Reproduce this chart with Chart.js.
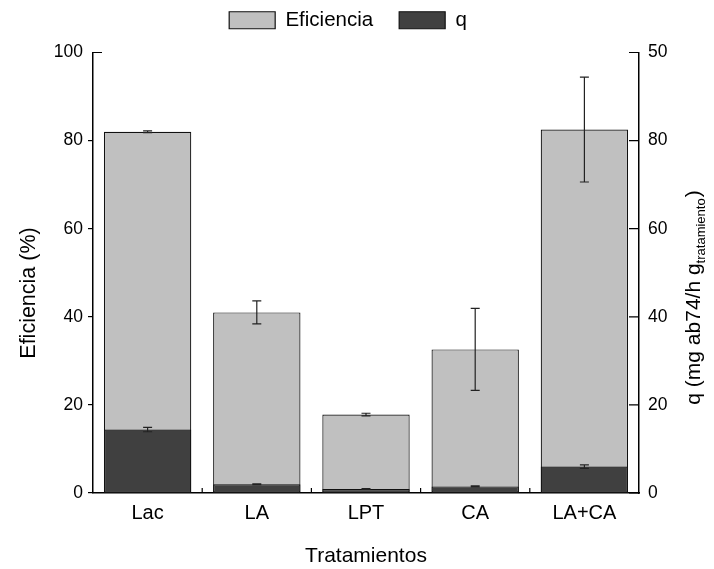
<!DOCTYPE html>
<html>
<head>
<meta charset="utf-8">
<script src="https://cdn.jsdelivr.net/npm/chart.js@4"></script>
<style>
  html, body { margin: 0; padding: 0; background: #fff; }
  #wrap { width: 714px; height: 569px; }
</style>
</head>
<body>
<div id="wrap"><canvas id="my-canvas" width="714" height="569"></canvas></div>
<script>
// data
let categories = ['Lac', 'LA', 'LPT', 'CA', 'LA+CA'];
let eficiencia = [82.0, 41.0, 17.8, 32.6, 82.5];
let eficiencia_err = [0.2, 2.6, 0.3, 9.3, 11.9];
let q_vals = [7.2, 1.0, 0.45, 0.75, 3.0];
let q_err = [0.25, 0.05, 0.05, 0.05, 0.2];
// right axis labels as printed on the original (top one reads 50)
let right_tick_labels = ['0', '20', '40', '60', '80', '50'];

Chart.defaults.font.family = "'Liberation Sans', Arial, sans-serif";
Chart.defaults.color = '#000';

// error bars drawn over the bars
const errorBars = {
    id: 'errorBars',
    afterDatasetsDraw(chart) {
        let ctx = chart.ctx;
        chart.data.datasets.forEach((ds, di) => {
            if (!ds.errors) return;
            let meta = chart.getDatasetMeta(di);
            let sc = chart.scales[meta.yAxisID];
            meta.data.forEach((bar, i) => {
                let v = ds.data[i], e = ds.errors[i];
                let yTop = sc.getPixelForValue(v + e);
                let yBot = sc.getPixelForValue(v - e);
                ctx.save();
                ctx.strokeStyle = '#222';
                ctx.lineWidth = 1.2;
                ctx.beginPath();
                ctx.moveTo(bar.x, yTop); ctx.lineTo(bar.x, yBot);
                ctx.moveTo(bar.x - 4.5, yTop); ctx.lineTo(bar.x + 4.5, yTop);
                ctx.moveTo(bar.x - 4.5, yBot); ctx.lineTo(bar.x + 4.5, yBot);
                ctx.stroke();
                ctx.restore();
            });
        });
    }
};

// inward ticks + rotated axis titles
const axisExtras = {
    id: 'axisExtras',
    afterDraw(chart) {
        let ctx = chart.ctx;
        let x = chart.scales.x, y = chart.scales.y, y1 = chart.scales.y1;
        let area = chart.chartArea;
        ctx.save();
        ctx.strokeStyle = '#000';
        ctx.lineWidth = 1.2;
        ctx.beginPath();
        for (let i = 0; i < categories.length - 1; i++) {
            let px = (x.getPixelForValue(i) + x.getPixelForValue(i + 1)) / 2;
            ctx.moveTo(px, area.bottom); ctx.lineTo(px, area.bottom - 5);
        }
        for (let v = 0; v <= 50; v += 10) {
            let py = y1.getPixelForValue(v);
            ctx.moveTo(area.right, py); ctx.lineTo(area.right - 10, py);
        }
        let pTop = y.getPixelForValue(100);
        ctx.moveTo(area.left, pTop); ctx.lineTo(area.left + 9, pTop);
        ctx.stroke();

        ctx.fillStyle = '#000';
        ctx.textBaseline = 'alphabetic';
        // left title
        ctx.save();
        ctx.translate(35, 293);
        ctx.rotate(-Math.PI / 2);
        ctx.font = "21.5px 'Liberation Sans', Arial";
        ctx.textAlign = 'center';
        ctx.fillText('Eficiencia (%)', 0, 0);
        ctx.restore();
        // right title with subscript
        ctx.save();
        ctx.translate(700, 298);
        ctx.rotate(-Math.PI / 2);
        ctx.textAlign = 'left';
        let mainFont = "21px 'Liberation Sans', Arial";
        let subFont = "13px 'Liberation Sans', Arial";
        ctx.font = mainFont;
        let t1 = 'q (mg ab74/h g', t3 = ')';
        let w1 = ctx.measureText(t1).width, w3 = ctx.measureText(t3).width;
        ctx.font = subFont;
        let t2 = 'tratamiento';
        let w2 = ctx.measureText(t2).width;
        let sx = -(w1 + w2 + w3) / 2;
        ctx.font = mainFont;
        ctx.fillText(t1, sx, 0);
        ctx.font = subFont;
        ctx.fillText(t2, sx + w1, 5);
        ctx.font = mainFont;
        ctx.fillText(t3, sx + w1 + w2 + 1, 0);
        ctx.restore();
        ctx.restore();
    }
};

// extra room under the legend
const legendGap = {
    id: 'legendGap',
    beforeLayout(chart) {
        let lg = chart.legend;
        if (lg && !lg._gapPatched) {
            let fit = lg.fit;
            lg.fit = function () { fit.call(this); this.height += 12; };
            lg._gapPatched = true;
        }
    }
};

let ctx = document.getElementById('my-canvas');
let chart = new Chart(ctx, {
    type: 'bar',
    data: {
        labels: categories,
        datasets: [
            {
                label: 'Eficiencia',
                data: eficiencia,
                errors: eficiencia_err,
                yAxisID: 'y',
                backgroundColor: '#c0c0c0',
                borderColor: '#111',
                borderWidth: 1.2,
                borderSkipped: false,
                grouped: false,
                order: 1,
                barPercentage: 0.8,
                categoryPercentage: 1.0
            },
            {
                label: 'q',
                data: q_vals,
                errors: q_err,
                yAxisID: 'y1',
                backgroundColor: '#404040',
                borderColor: '#111',
                borderWidth: 1.2,
                borderSkipped: false,
                grouped: false,
                order: 0,
                barPercentage: 0.8,
                categoryPercentage: 1.0
            }
        ]
    },
    options: {
        responsive: false,
        animation: false,
        layout: { padding: { top: -16, right: 18, left: 0, bottom: 0 } },
        scales: {
            x: {
                grid: { display: false, drawTicks: false },
                border: { display: true, color: '#000', width: 1.5 },
                ticks: { font: { size: 20 }, padding: 8, color: '#000' },
                title: { display: true, text: 'Tratamientos', font: { size: 21 }, padding: 0, color: '#000' },
                afterFit(scale) { scale.height = 76; }
            },
            y: {
                position: 'left',
                min: 0, max: 100,
                grid: {
                    display: true, drawOnChartArea: false, drawTicks: true, tickLength: 5, lineWidth: 1.2,
                    color: (c) => (c.tick && c.tick.value === 100) ? 'rgba(0,0,0,0)' : '#000'
                },
                border: { display: true, color: '#000', width: 1.5 },
                ticks: { stepSize: 20, font: { size: 17.5 }, padding: 5, color: '#000' },
                afterFit(scale) { scale.width = 93; }
            },
            y1: {
                position: 'right',
                min: 0, max: 50,
                grid: { display: false, drawTicks: false },
                border: { display: true, color: '#000', width: 1.5 },
                ticks: {
                    stepSize: 10, font: { size: 17.5 }, padding: 9, color: '#000',
                    callback: (v, i) => right_tick_labels[i]
                },
                afterFit(scale) { scale.width = 57; }
            }
        },
        plugins: {
            legend: {
                position: 'top',
                labels: {
                    boxWidth: 46, boxHeight: 17, padding: 26,
                    font: { size: 20.5 }, color: '#000',
                    sort: (a, b) => a.datasetIndex - b.datasetIndex
                }
            },
            tooltip: { enabled: false }
        }
    },
    plugins: [errorBars, axisExtras, legendGap]
});
</script>
</body>
</html>
